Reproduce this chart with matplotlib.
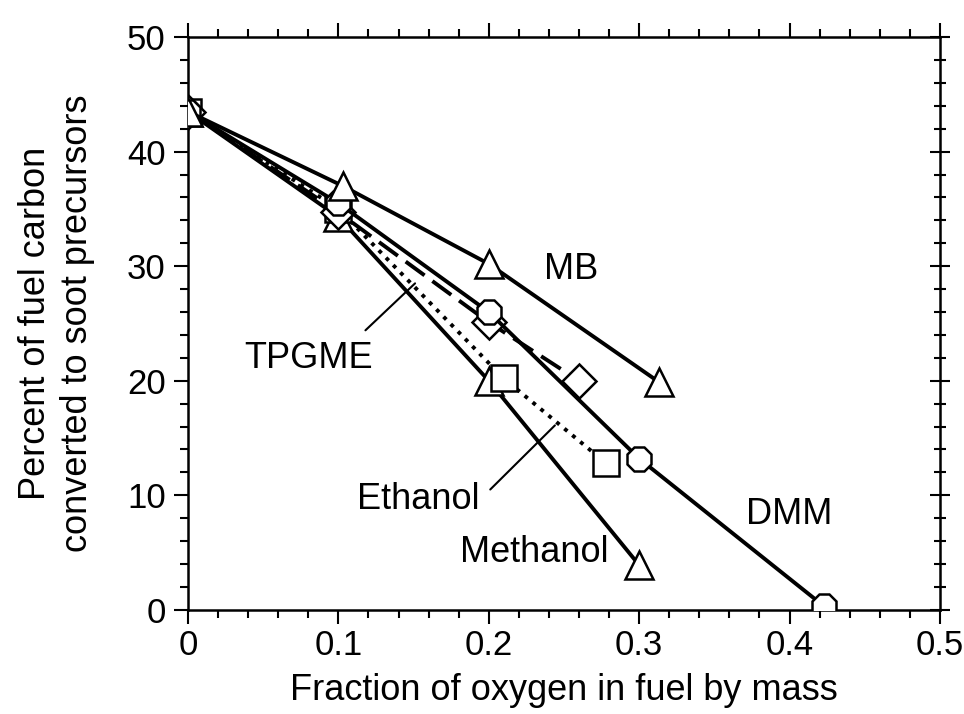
import matplotlib.pyplot as plt
from matplotlib.ticker import MultipleLocator

plt.rcParams['font.family'] = ['Liberation Sans', 'DejaVu Sans']

# data
x_mb = [0, 0.103, 0.2, 0.313]
y_mb = [43.5, 37.0, 30.2, 19.9]

x_dmm = [0, 0.1, 0.2, 0.3, 0.423]
y_dmm = [43.5, 35.5, 26.0, 13.2, 0.3]

x_tpgme = [0, 0.1, 0.2, 0.26]
y_tpgme = [43.5, 34.7, 25.1, 20.0]

x_eth = [0, 0.1, 0.21, 0.278]
y_eth = [43.5, 35.0, 20.2, 12.8]

x_meth = [0, 0.1, 0.2, 0.3]
y_meth = [43.5, 34.3, 20.0, 3.9]

xticks = [0, 0.1, 0.2, 0.3, 0.4, 0.5]
xlabels = ['0', '0.1', '0.2', '0.3', '0.4', '0.5']
yticks = [0, 10, 20, 30, 40, 50]

fig = plt.figure(figsize=(9.64, 7.14), dpi=100)
ax = fig.add_axes([0.195, 0.146, 0.78, 0.802])

mk = dict(markerfacecolor='white', markeredgecolor='black', markeredgewidth=1.8, color='black')
ax.plot(x_meth, y_meth, '-', marker='^', ms=20, lw=2.8, **mk, zorder=3)
ax.plot(x_eth, y_eth, ':', marker='s', ms=19, lw=2.8, **mk, zorder=3)
ax.plot(x_tpgme, y_tpgme, '--', marker='D', ms=17, lw=2.8, dashes=(6, 2.5), **mk, zorder=3)
ax.plot(x_dmm, y_dmm, '-', marker='8', ms=19, lw=2.8, **mk, zorder=3)
ax.plot(x_mb, y_mb, '-', marker='^', ms=20, lw=2.8, **mk, zorder=3)

fs = 26
ax.text(0.255, 29.7, 'MB', fontsize=fs, ha='center', va='center')
ax.text(0.40, 8.3, 'DMM', fontsize=fs, ha='center', va='center')
ax.text(0.23, 5.0, 'Methanol', fontsize=fs, ha='center', va='center')
ax.text(0.153, 9.6, 'Ethanol', fontsize=fs, ha='center', va='center')
ax.text(0.08, 21.9, 'TPGME', fontsize=fs, ha='center', va='center')
arrow = dict(arrowstyle='-', color='black', lw=1.5, shrinkA=0, shrinkB=0)
ax.annotate('', xy=(0.244, 16.1), xytext=(0.201, 10.5), arrowprops=arrow)
ax.annotate('', xy=(0.151, 28.5), xytext=(0.118, 24.4), arrowprops=arrow)

ax.set_xlim(0, 0.5)
ax.set_ylim(0, 50)
ax.set_xticks(xticks)
ax.set_xticklabels(xlabels)
ax.set_yticks(yticks)
ax.set_yticklabels([str(v) for v in yticks])
ax.xaxis.set_minor_locator(MultipleLocator(0.02))
ax.yaxis.set_minor_locator(MultipleLocator(2))
ax.tick_params(which='both', direction='out', top=True, right=False, width=1.5,
               labelsize=25, color='black')
ax.tick_params(which='major', length=10)
ax.tick_params(which='minor', length=6)
ax.tick_params(axis='y', which='major', pad=6)
for s in ax.spines.values():
    s.set_linewidth(1.8)

# right-hand ticks cross the frame
ax2 = ax.twinx()
ax2.set_ylim(0, 50)
ax2.set_yticks(yticks)
ax2.yaxis.set_minor_locator(MultipleLocator(2))
ax2.tick_params(which='both', direction='inout', labelright=False, width=1.5)
ax2.tick_params(which='major', length=14)
ax2.tick_params(which='minor', length=8)
for s in ax2.spines.values():
    s.set_visible(False)

ax.set_xlabel('Fraction of oxygen in fuel by mass', fontsize=26, labelpad=8)
ax.set_ylabel('Percent of fuel carbon\nconverted to soot precursors', fontsize=26,
              labelpad=23, linespacing=1.25)

fig.savefig('out.png', dpi=100)
